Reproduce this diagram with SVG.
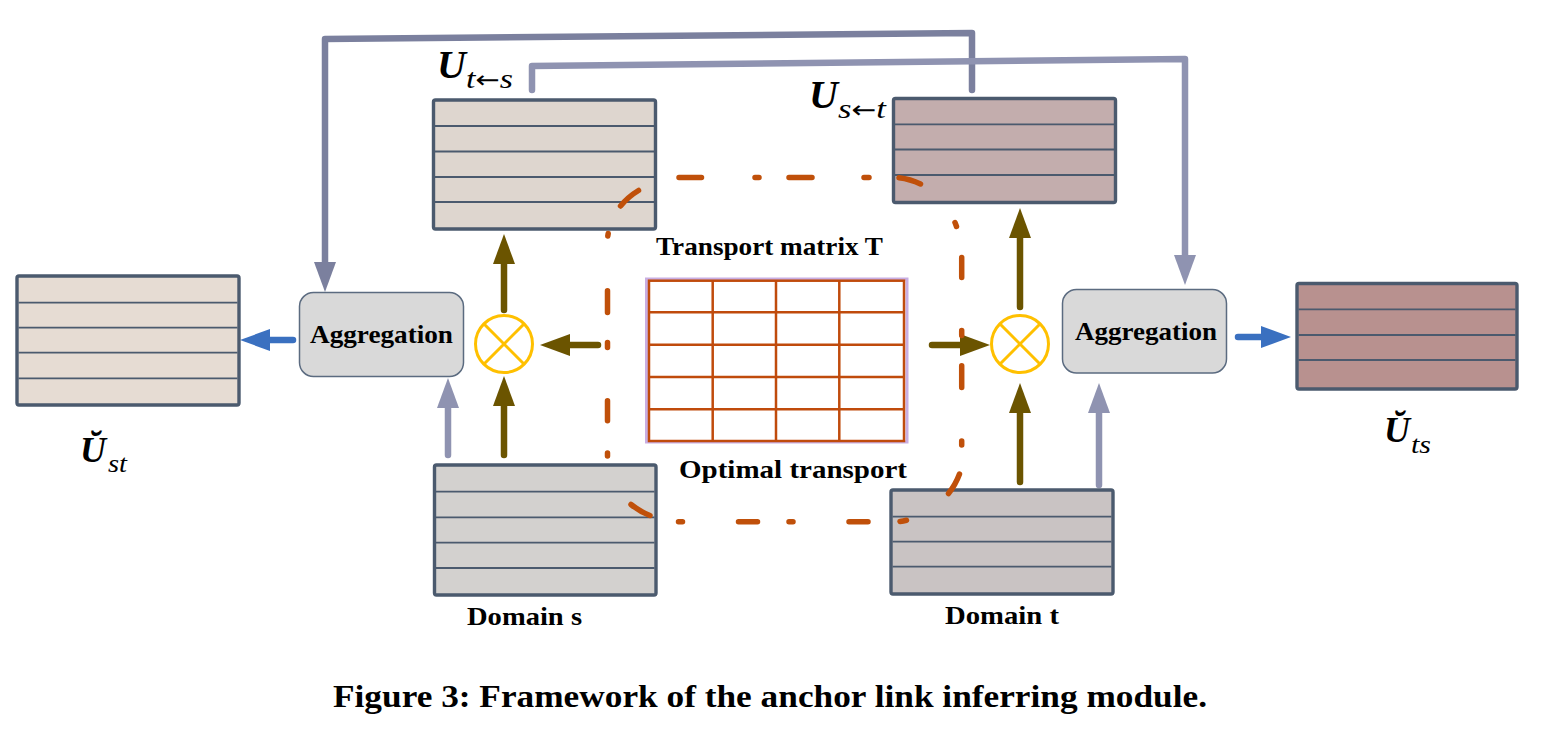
<svg xmlns="http://www.w3.org/2000/svg" width="1544" height="733" viewBox="0 0 1544 733">
<style>
.tb{stroke:#4b5a6e;stroke-width:3.4;}
.rl{stroke:#4b5a6e;stroke-width:1.8;}
.agg{fill:#d9d9d9;stroke:#5b6b80;stroke-width:1.5;}
.lbl{font-family:"Liberation Serif",serif;font-weight:bold;fill:#000;}
.mu{font-family:"Liberation Serif",serif;font-weight:bold;font-style:italic;fill:#000;}
.sub{font-family:"Liberation Serif",serif;font-style:italic;fill:#000;}
.arr{font-family:"DejaVu Sans",sans-serif;font-style:normal;}
.olive{stroke:#6b5400;stroke-width:6.5;stroke-linecap:round;fill:none;}
.gray1{stroke:#7b809e;stroke-width:6.5;stroke-linecap:round;stroke-linejoin:round;fill:none;}
.gray2{stroke:#8f93b1;stroke-width:6.5;stroke-linecap:round;stroke-linejoin:round;fill:none;}
.blue{stroke:#3a70c0;stroke-width:6.5;stroke-linecap:round;fill:none;}
.circ{fill:none;stroke:#ffc000;stroke-width:3;}
.grid{stroke:#c04b0c;stroke-width:2.5;fill:none;}
.ot{stroke:#c0500a;stroke-width:5.5;stroke-linecap:round;fill:none;}
</style>
<defs>
<marker id="ah-olive" markerUnits="userSpaceOnUse" markerWidth="30" markerHeight="22" viewBox="0 0 30 22" refX="0" refY="11" orient="auto"><path d="M0,0 L30,11 L0,22 z" fill="#6b5400"/></marker>
<marker id="ah-gray1" markerUnits="userSpaceOnUse" markerWidth="30" markerHeight="22" viewBox="0 0 30 22" refX="0" refY="11" orient="auto"><path d="M0,0 L30,11 L0,22 z" fill="#7b809e"/></marker>
<marker id="ah-gray2" markerUnits="userSpaceOnUse" markerWidth="30" markerHeight="22" viewBox="0 0 30 22" refX="0" refY="11" orient="auto"><path d="M0,0 L30,11 L0,22 z" fill="#8f93b1"/></marker>
<marker id="ah-blue" markerUnits="userSpaceOnUse" markerWidth="30" markerHeight="22" viewBox="0 0 30 22" refX="0" refY="11" orient="auto"><path d="M0,0 L30,11 L0,22 z" fill="#3a70c0"/></marker>
</defs>
<rect width="1544" height="733" fill="#ffffff"/>

<g id="connectors">
<path class="gray1" d="M972,90 L972,33 L325,39 L325,262" marker-end="url(#ah-gray1)"/>
<path class="gray2" d="M532,90 L532,66 L1185,59 L1185,255" marker-end="url(#ah-gray2)"/>
<path class="gray2" d="M448,455 L448,408" marker-end="url(#ah-gray2)"/>
<path class="gray2" d="M1099,485 L1099,413" marker-end="url(#ah-gray2)"/>
<path class="olive" d="M504,310 L504,264" marker-end="url(#ah-olive)"/>
<path class="olive" d="M504,455 L504,406" marker-end="url(#ah-olive)"/>
<path class="olive" d="M598,345 L570,345" marker-end="url(#ah-olive)"/>
<path class="olive" d="M1020,307 L1020,238" marker-end="url(#ah-olive)"/>
<path class="olive" d="M1020,482 L1020,413" marker-end="url(#ah-olive)"/>
<path class="olive" d="M932,345 L960,345" marker-end="url(#ah-olive)"/>
<path class="blue" d="M293,340 L270,340" marker-end="url(#ah-blue)"/>
<path class="blue" d="M1238,337 L1261,337" marker-end="url(#ah-blue)"/>
</g>

<g id="U-t-from-s">
<rect class="tb" x="433.5" y="100" width="222" height="129" rx="2" fill="#ded6cf"/>
<path class="rl" d="M435,126 H654 M435,151.5 H654 M435,177 H654 M435,202 H654"/>
<text class="mu" x="437" y="78" font-size="40">U</text>
<text class="sub" x="466" y="88" font-size="28" textLength="47" lengthAdjust="spacingAndGlyphs">t<tspan class="arr" font-size="24">←</tspan>s</text>
</g>

<g id="U-s-from-t">
<rect class="tb" x="893.5" y="98.5" width="222" height="104" rx="2" fill="#c3adad"/>
<path class="rl" d="M895,124.3 H1114 M895,149.5 H1114 M895,175 H1114"/>
<text class="mu" x="809" y="108" font-size="40">U</text>
<text class="sub" x="838" y="118" font-size="28" textLength="48" lengthAdjust="spacingAndGlyphs">s<tspan class="arr" font-size="24">←</tspan>t</text>
</g>

<g id="U-st">
<rect class="tb" x="17" y="276" width="222" height="129" rx="2" fill="#e6dcd3"/>
<path class="rl" d="M18.5,302.7 H237.5 M18.5,327.7 H237.5 M18.5,352.7 H237.5 M18.5,378.3 H237.5"/>
<text class="mu" x="80" y="462" font-size="36">Ŭ</text>
<text class="sub" x="108" y="472" font-size="26" textLength="19" lengthAdjust="spacingAndGlyphs">st</text>
</g>

<g id="U-ts">
<rect class="tb" x="1297" y="283.5" width="220" height="105.5" rx="2" fill="#b8918f"/>
<path class="rl" d="M1298.5,309.3 H1515.5 M1298.5,335 H1515.5 M1298.5,360 H1515.5"/>
<text class="mu" x="1384" y="442" font-size="36">Ŭ</text>
<text class="sub" x="1411" y="453" font-size="26" textLength="20" lengthAdjust="spacingAndGlyphs">ts</text>
</g>

<g id="domain-s">
<rect class="tb" x="434.5" y="465" width="221.5" height="130" rx="2" fill="#d3d1cf"/>
<path class="rl" d="M436,491.7 H654.5 M436,517.3 H654.5 M436,542.7 H654.5 M436,568 H654.5"/>
<text class="lbl" x="467" y="625" font-size="26" textLength="115" lengthAdjust="spacingAndGlyphs">Domain s</text>
</g>

<g id="domain-t">
<rect class="tb" x="891" y="490" width="222" height="104" rx="2" fill="#c9c3c3"/>
<path class="rl" d="M892.5,516.7 H1111.5 M892.5,541.7 H1111.5 M892.5,566.7 H1111.5"/>
<text class="lbl" x="945" y="624" font-size="26" textLength="114" lengthAdjust="spacingAndGlyphs">Domain t</text>
</g>

<g id="aggregation-left">
<rect class="agg" x="299.5" y="292.5" width="164" height="84" rx="14"/>
<text class="lbl" x="310" y="343" font-size="26" textLength="143" lengthAdjust="spacingAndGlyphs">Aggregation</text>
</g>

<g id="aggregation-right">
<rect class="agg" x="1062.5" y="289.5" width="164" height="83.5" rx="14"/>
<text class="lbl" x="1075" y="340" font-size="26" textLength="142" lengthAdjust="spacingAndGlyphs">Aggregation</text>
</g>

<g id="otimes-left">
<circle class="circ" cx="504" cy="344" r="28.5"/>
<path class="circ" d="M483.8,323.8 L524.2,364.2 M524.2,323.8 L483.8,364.2"/>
</g>

<g id="otimes-right">
<circle class="circ" cx="1020" cy="344" r="28.5"/>
<path class="circ" d="M999.8,323.8 L1040.2,364.2 M1040.2,323.8 L999.8,364.2"/>
</g>

<g id="transport-matrix">
<rect x="646.5" y="279" width="260.5" height="163" fill="#ffffff" stroke="#c9aee2" stroke-width="3"/>
<rect class="grid" x="649" y="280.7" width="255" height="160.3"/>
<path class="grid" d="M712.7,280.7 V441 M776,280.7 V441 M839.3,280.7 V441 M649,312.3 H904 M649,344.7 H904 M649,377 H904 M649,409.3 H904"/>
<text class="lbl" x="656" y="255" font-size="26" textLength="227" lengthAdjust="spacingAndGlyphs">Transport matrix T</text>
<text class="lbl" x="679" y="478" font-size="26" textLength="228" lengthAdjust="spacingAndGlyphs">Optimal transport</text>
</g>

<g id="ot-boundary">
<path class="ot" d="M607.5,456 L607.5,453 M607.5,420.8 L607.5,400.8 M607.5,347.5 L607.5,342.5 M607.5,312.5 L607.5,290.8 M607.8,236 L608.2,233.5 M620.5,206 A70,70 0 0 1 638.5,190.5 M679,177.5 L701.5,177.5 M755,177.5 L759,177.5 M789,177.5 L812,177.5 M864,177.5 L869,177.5 M899,177.8 A70,70 0 0 1 920.5,184 M955,222.5 A70,70 0 0 1 956.5,226.5 M961.7,257.5 L961.7,277.5 M961.7,330.5 L961.7,335.5 M961.7,365.8 L961.7,387.5 M961.7,441 L961.7,445 M959.5,474 A70,70 0 0 1 948.5,493.5 M906.5,520.3 A70,70 0 0 1 900,521.5 M868,521.7 L849,521.7 M793,521.7 L789,521.7 M757.5,521.7 L738.5,521.7 M682.5,521.7 L678.5,521.7 M650,515.5 A70,70 0 0 1 631,504.5"/>
</g>

<text class="lbl" x="333" y="707" font-size="32" textLength="874" lengthAdjust="spacingAndGlyphs">Figure 3: Framework of the anchor link inferring module.</text>
</svg>
